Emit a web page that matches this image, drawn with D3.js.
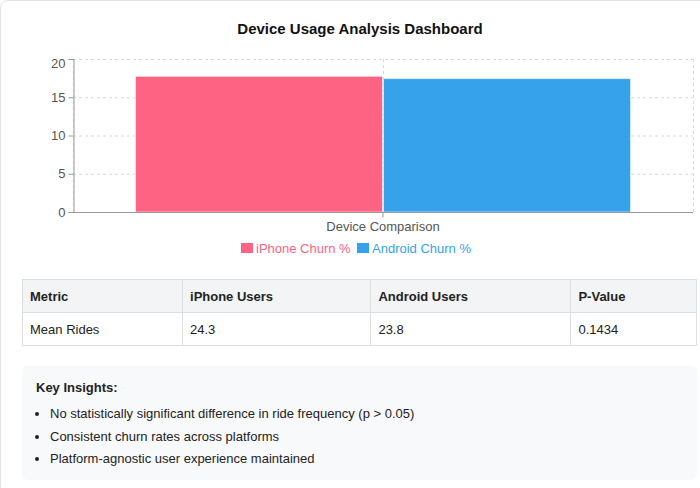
<!DOCTYPE html>
<html>
<head>
<meta charset="utf-8">
<script src="https://cdn.jsdelivr.net/npm/d3@7/dist/d3.min.js"></script>
<style>
  html, body { margin: 0; padding: 0; background: #fff; }
  body { width: 700px; height: 488px; overflow: hidden; position: relative;
         font-family: "Liberation Sans", Arial, Helvetica, sans-serif; }
  #card { position: absolute; left: 0; top: 0; width: 760px; height: 520px;
          border: 1px solid #e3e3e3; border-radius: 8px; box-sizing: border-box; }
  svg { position: absolute; left: 0; top: 0; }
  table { position: absolute; left: 22px; top: 279px; width: 675px;
          border-collapse: collapse; font-size: 13px; color: #222; }
  th, td { border: 1px solid #dedede; text-align: left; padding: 0 0 0 7px; height: 32px; }
  th { background: #f3f4f6; font-weight: bold; }
  #insights { position: absolute; left: 22px; top: 366px; width: 675px; height: 114px;
              background: #f8f9fa; border-radius: 6px; font-size: 13px; color: #222; }
  #insights .ttl { position: absolute; left: 14px; top: 14px; font-weight: bold; }
  #insights ul { position: absolute; left: 0; top: 37px; margin: 0; padding: 0 0 0 28px; }
  #insights li { line-height: 22.5px; }
</style>
</head>
<body>
<div id="card"></div>
<svg id="chart" width="700" height="270"></svg>
<table id="tbl"></table>
<div id="insights"><div class="ttl">Key Insights:</div><ul id="ins"></ul></div>
<script>
const title = "Device Usage Analysis Dashboard";
const categories = ["Device Comparison"];
const seriesNames = ["iPhone Churn %", "Android Churn %"];
const seriesValues = [17.8, 17.5];
const seriesColors = ["#ff6384", "#36a2eb"];
const yTicks = [0, 5, 10, 15, 20];
const tableHeader = ["Metric", "iPhone Users", "Android Users", "P-Value"];
const tableRow = ["Mean Rides", "24.3", "23.8", "0.1434"];
const colWidths = [160, 190, 202, 123];
const insights = [
  "No statistically significant difference in ride frequency (p > 0.05)",
  "Consistent churn rates across platforms",
  "Platform-agnostic user experience maintained"
];

(function () {
const svg = d3.select("#chart");
svg.append("text").attr("x", 360).attr("y", 34).attr("text-anchor", "middle")
  .attr("font-size", 15).attr("font-weight", "bold").attr("fill", "#111").text(title);

const pl = 73, pr = 693, pt = 59, pb = 212;
const x = d3.scaleBand().domain(categories).range([pl, pr]);
const y = d3.scaleLinear().domain([0, 20]).range([pb, pt]);

const g = svg.append("g");
g.selectAll("line.hg").data(yTicks).join("line")
  .attr("x1", pl).attr("x2", pr).attr("y1", d => y(d) + 0.5).attr("y2", d => y(d) + 0.5)
  .attr("stroke", "#d8d8d8").attr("stroke-dasharray", "3,3");
const vx = [pl, x(categories[0]) + x.bandwidth() / 2, pr];
g.selectAll("line.vg").data(vx).join("line")
  .attr("x1", d => Math.round(d) + 0.5).attr("x2", d => Math.round(d) + 0.5)
  .attr("y1", pt).attr("y2", pb)
  .attr("stroke", "#d8d8d8").attr("stroke-dasharray", "3,3");

const inner = d3.scaleBand().domain(seriesNames)
  .range([x(categories[0]) + x.bandwidth() * 0.1, x(categories[0]) + x.bandwidth() * 0.9]);
g.selectAll("rect.bar").data(seriesNames).join("rect")
  .attr("x", d => inner(d) + 0.5).attr("width", inner.bandwidth() - 1)
  .attr("y", (d, i) => y(seriesValues[i]) + 0.5)
  .attr("height", (d, i) => pb - y(seriesValues[i]) - 0.5)
  .attr("fill", (d, i) => seriesColors[i])
  .attr("stroke", "rgba(255,255,255,0.55)").attr("stroke-width", 1);

const yAxis = d3.axisLeft(y).tickValues(yTicks).tickSize(5).tickPadding(3);
const ya = svg.append("g").attr("transform", `translate(${pl + 0.5},0)`).call(yAxis);
ya.select(".domain").attr("stroke", "#999");
ya.selectAll(".tick line").attr("stroke", "#999");
ya.selectAll("text").attr("font-size", 13).attr("fill", "#555")
  .attr("font-family", "Liberation Sans, Arial, sans-serif");
ya.selectAll(".tick").filter(d => d === 20).select("text").attr("dy", "0.32em").attr("y", 4);

const xAxis = d3.axisBottom(x).tickSize(5).tickPadding(4);
const xa = svg.append("g").attr("transform", `translate(0,${pb + 0.5})`).call(xAxis);
xa.select(".domain").attr("stroke", "#999").attr("d", `M${pl},0H${pr}`);
xa.selectAll(".tick line").attr("stroke", "#999");
xa.selectAll("text").attr("font-size", 13).attr("fill", "#555")
  .attr("font-family", "Liberation Sans, Arial, sans-serif");

const legend = svg.append("g");
const legendX = [241, 357];
seriesNames.forEach((s, i) => {
  const lg = legend.append("g").attr("transform", `translate(${legendX[i]},243)`);
  lg.append("rect").attr("width", 12).attr("height", 10).attr("fill", seriesColors[i]);
  lg.append("text").attr("x", 15).attr("y", 9.5).attr("font-size", 13)
    .attr("fill", seriesColors[i]).text(s);
});

const tbl = d3.select("#tbl");
tbl.append("tr").selectAll("th").data(tableHeader).join("th")
  .style("width", (d, i) => colWidths[i] + "px").text(d => d);
tbl.append("tr").selectAll("td").data(tableRow).join("td").text(d => d);

d3.select("#ins").selectAll("li").data(insights).join("li").text(d => d);
})();
</script>
</body>
</html>
